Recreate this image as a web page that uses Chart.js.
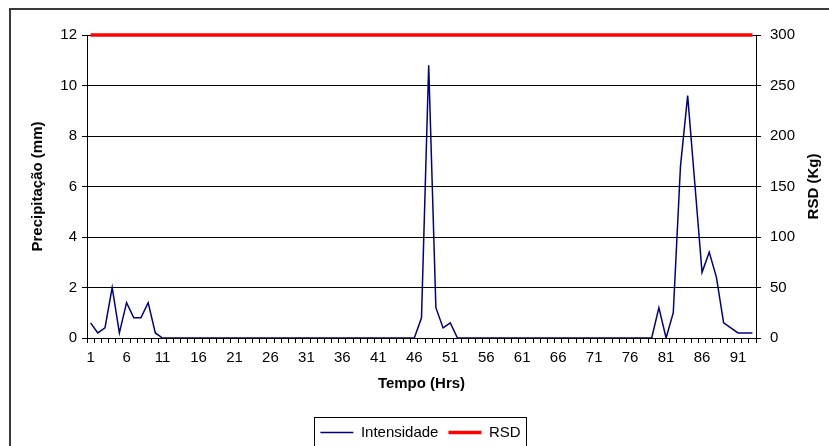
<!DOCTYPE html>
<html>
<head>
<meta charset="utf-8">
<script src="https://cdn.jsdelivr.net/npm/chart.js@4"></script>
<style>
  html, body { margin: 0; padding: 0; background: #fff; }
  #wrap { width: 829px; height: 446px; position: relative; }
</style>
</head>
<body>
<div id="wrap"><canvas id="rainChart"></canvas></div>
<script>
const hours = [
  "1", "2", "3", "4", "5", "6", "7", "8", "9", "10",
  "11", "12", "13", "14", "15", "16", "17", "18", "19", "20",
  "21", "22", "23", "24", "25", "26", "27", "28", "29", "30",
  "31", "32", "33", "34", "35", "36", "37", "38", "39", "40",
  "41", "42", "43", "44", "45", "46", "47", "48", "49", "50",
  "51", "52", "53", "54", "55", "56", "57", "58", "59", "60",
  "61", "62", "63", "64", "65", "66", "67", "68", "69", "70",
  "71", "72", "73", "74", "75", "76", "77", "78", "79", "80",
  "81", "82", "83", "84", "85", "86", "87", "88", "89", "90",
  "91", "92", "93",
];

// precipitação (mm) per hour
const intensidade = [
  0.6, 0.2, 0.4, 2.0, 0.2, 1.4, 0.8, 0.8, 1.4, 0.2,
  0, 0, 0, 0, 0, 0, 0, 0, 0, 0,
  0, 0, 0, 0, 0, 0, 0, 0, 0, 0,
  0, 0, 0, 0, 0, 0, 0, 0, 0, 0,
  0, 0, 0, 0, 0, 0, 0.8, 10.8, 1.2, 0.4,
  0.6, 0, 0, 0, 0, 0, 0, 0, 0, 0,
  0, 0, 0, 0, 0, 0, 0, 0, 0, 0,
  0, 0, 0, 0, 0, 0, 0, 0, 0, 1.2,
  0, 1.0, 6.8, 9.6, 6.1, 2.6, 3.4, 2.4, 0.6, 0.4,
  0.2, 0.2, 0.2,
];

// RSD (Kg)
const rsd = [
  300, 300, 300, 300, 300, 300, 300, 300, 300, 300,
  300, 300, 300, 300, 300, 300, 300, 300, 300, 300,
  300, 300, 300, 300, 300, 300, 300, 300, 300, 300,
  300, 300, 300, 300, 300, 300, 300, 300, 300, 300,
  300, 300, 300, 300, 300, 300, 300, 300, 300, 300,
  300, 300, 300, 300, 300, 300, 300, 300, 300, 300,
  300, 300, 300, 300, 300, 300, 300, 300, 300, 300,
  300, 300, 300, 300, 300, 300, 300, 300, 300, 300,
  300, 300, 300, 300, 300, 300, 300, 300, 300, 300,
  300, 300, 300,
];

Chart.defaults.font.family = "'Liberation Sans', Arial, sans-serif";
Chart.defaults.font.size = 15;
Chart.defaults.color = "#000";

// outer frame + legend box + right title (reads bottom to top like Excel)
const excelBits = {
  id: "excelBits",
  beforeDraw(chart) {
    const c = chart.ctx;
    c.save();
    c.fillStyle = "#fff";
    c.fillRect(0, 0, chart.width, chart.height);
    c.strokeStyle = "#3a3a3a";
    c.lineWidth = 2;
    c.strokeRect(10, 9, 1000, 1000);
    c.restore();
  },
  afterDraw(chart) {
    const c = chart.ctx;
    const boxes = chart.legend.legendHitBoxes;
    if (boxes && boxes.length) {
      const first = boxes[0];
      const last = boxes[boxes.length - 1];
      c.save();
      c.strokeStyle = "#000";
      c.lineWidth = 1;
      c.strokeRect(
        Math.round(first.left - 6) + 0.5,
        417.5,
        Math.round(last.left + last.width - first.left + 12),
        60
      );
      c.restore();
    }
    const area = chart.chartArea;
    c.save();
    c.translate(814, (area.top + area.bottom) / 2);
    c.rotate(-Math.PI / 2);
    c.font = "bold 15px 'Liberation Sans', Arial, sans-serif";
    c.fillStyle = "#000";
    c.textAlign = "center";
    c.textBaseline = "middle";
    c.fillText("RSD (Kg)", 0, 0);
    c.restore();
  },
};

new Chart(document.getElementById("rainChart").getContext("2d"), {
  type: "line",
  data: {
    labels: hours,
    datasets: [
      {
        label: "Intensidade",
        data: intensidade,
        yAxisID: "y",
        borderColor: "#000080",
        backgroundColor: "#000080",
        borderWidth: 1.5,
        pointRadius: 0,
        tension: 0,
        fill: false,
      },
      {
        label: "RSD",
        data: rsd,
        yAxisID: "y1",
        borderColor: "#ff0000",
        backgroundColor: "#ff0000",
        borderWidth: 3.5,
        pointRadius: 0,
        tension: 0,
        fill: false,
        clip: 6,
      },
    ],
  },
  options: {
    responsive: true,
    maintainAspectRatio: false,
    animation: false,
    layout: {
      padding: { top: 35, left: 12, right: 0, bottom: -4 },
    },
    scales: {
      x: {
        type: "category",
        offset: true,
        grid: {
          offset: true,
          drawOnChartArea: false,
          drawTicks: true,
          tickLength: 5,
          color: "#000",
        },
        border: { color: "#000" },
        ticks: {
          autoSkip: false,
          maxRotation: 0,
          minRotation: 0,
          padding: 6,
          callback: (value, index) => (index % 5 === 0 ? hours[index] : ""),
        },
        title: {
          display: true,
          text: "Tempo (Hrs)",
          font: { weight: "bold", size: 15 },
          padding: { top: 0, bottom: 22 },
        },
        afterFit: (scale) => {
          scale.height = 77;
        },
      },
      y: {
        position: "left",
        min: 0,
        max: 12,
        grid: { color: "#000", tickLength: 5 },
        border: { color: "#000" },
        ticks: { stepSize: 2, padding: 5 },
        title: {
          display: true,
          text: "Precipitação (mm)",
          font: { weight: "bold", size: 15 },
          padding: { top: 17, bottom: 0 },
        },
        afterFit: (scale) => {
          scale.width = 75;
        },
      },
      y1: {
        position: "right",
        min: 0,
        max: 300,
        grid: { drawOnChartArea: false, color: "#000", tickLength: 5 },
        border: { color: "#000" },
        ticks: { stepSize: 50, padding: 9 },
        afterFit: (scale) => {
          scale.width = 73;
        },
      },
    },
    plugins: {
      legend: {
        position: "bottom",
        labels: {
          usePointStyle: true,
          pointStyle: "line",
          pointStyleWidth: 33,
          padding: 10,
          font: { size: 15 },
        },
      },
      tooltip: { enabled: false },
    },
  },
  plugins: [excelBits],
});
</script>
</body>
</html>
